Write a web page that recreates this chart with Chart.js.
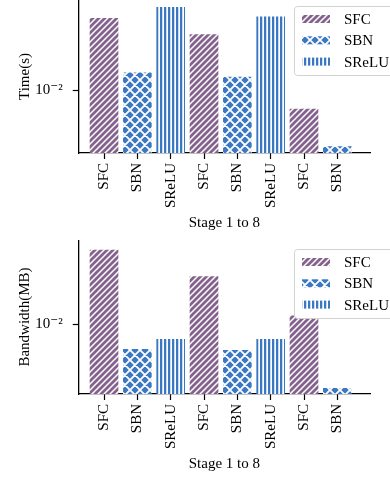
<!DOCTYPE html>
<html lang="en">
<head>
<meta charset="UTF-8">
<title>Stage time and bandwidth</title>
<style>
    body { margin: 0; background: #fff; }
    canvas { display: block; }
</style>
<script src="https://cdn.jsdelivr.net/npm/chart.js"></script>
</head>
<body>
<canvas id="timeChart" width="390" height="240"></canvas>
<canvas id="bwChart" width="390" height="241"></canvas>
<script>
// stage order on the x axis
const stageLabels = ['SFC', 'SBN', 'SReLU', 'SFC', 'SBN', 'SReLU', 'SFC', 'SBN'];
const seriesNames = ['SFC', 'SBN', 'SReLU'];

// Time(s), one value per occurrence of the layer type
const timeSFC = [0.0301, 0.0234, 0.00747];
const timeSBN = [0.0130, 0.0122, 0.00419];
const timeSReLU = [0.0356, 0.0308];

// Bandwidth(MB)
const bwSFC = [0.0313, 0.0208, 0.0114];
const bwSBN = [0.00681, 0.00671, 0.00374];
const bwSReLU = [0.00794, 0.00794];

const yTicks = [0.01];

const purple = '#85628d';
const blue = '#3b78c2';
const FONT = '"Liberation Serif", "DejaVu Serif", serif';

function makePattern(kind) {
    const c = document.createElement('canvas');
    const g = c.getContext('2d');
    if (kind === 'diag') {
        const s = 6;
        c.width = c.height = s;
        g.fillStyle = purple;
        g.fillRect(0, 0, s, s);
        g.strokeStyle = '#fff';
        g.lineWidth = 1.5;
        g.beginPath();
        g.moveTo(-1, s + 1); g.lineTo(s + 1, -1);
        g.moveTo(-1, 1); g.lineTo(1, -1);
        g.moveTo(s - 1, s + 1); g.lineTo(s + 1, s - 1);
        g.stroke();
    } else if (kind === 'cross') {
        const s = 10;
        c.width = c.height = s;
        g.fillStyle = blue;
        g.fillRect(0, 0, s, s);
        g.strokeStyle = '#fff';
        g.lineWidth = 1.8;
        g.beginPath();
        g.moveTo(-1, s + 1); g.lineTo(s + 1, -1);
        g.moveTo(-1, 1); g.lineTo(1, -1);
        g.moveTo(s - 1, s + 1); g.lineTo(s + 1, s - 1);
        g.moveTo(-1, -1); g.lineTo(s + 1, s + 1);
        g.moveTo(s - 1, -1); g.lineTo(s + 1, 1);
        g.moveTo(-1, s - 1); g.lineTo(1, s + 1);
        g.stroke();
    } else {
        c.width = 4; c.height = 4;
        g.fillStyle = '#fff';
        g.fillRect(0, 0, 4, 4);
        g.fillStyle = blue;
        g.fillRect(0, 0, 2, 4);
        g.fillStyle = '#c9dcf1';
        g.fillRect(2, 0, 1, 4);
    }
    return g.createPattern(c, 'repeat');
}

const patterns = [makePattern('diag'), makePattern('cross'), makePattern('vert')];

function sup(n) {
    const map = {'-': '⁻', '0': '⁰', '1': '¹', '2': '²', '3': '³', '4': '⁴', '5': '⁵', '6': '⁶', '7': '⁷', '8': '⁸', '9': '⁹'};
    return String(n).split('').map(ch => map[ch]).join('');
}

// legend drawn inside the plot, top right
const stageLegend = {
    id: 'stageLegend',
    afterDraw(chart, args, opts) {
        const ctx = chart.ctx;
        const top = opts.top;
        ctx.save();
        ctx.beginPath();
        ctx.roundRect(294.5, top + 0.5, 110, 69, 3);
        ctx.fillStyle = '#fff';
        ctx.fill();
        ctx.strokeStyle = '#d2d2d2';
        ctx.lineWidth = 1;
        ctx.stroke();
        ctx.font = '15px ' + FONT;
        ctx.textBaseline = 'middle';
        seriesNames.forEach((name, k) => {
            const cy = top + 13 + k * 21.3;
            ctx.fillStyle = patterns[k];
            ctx.fillRect(302, cy - 4, 28, 8);
            ctx.fillStyle = '#000';
            ctx.fillText(name, 344, cy + 1);
        });
        ctx.restore();
    }
};

function noPad(s) {
    s.paddingTop = 0;
    s.paddingBottom = 0;
    s.paddingLeft = 0;
    s.paddingRight = 0;
}

function makeChart(id, yTitle, values, yMin, yMax, legendTop) {
    const datasets = seriesNames.map((name, k) => {
        const xs = stageLabels.map((l, i) => l === name ? i : -1).filter(i => i >= 0);
        return {
            label: name,
            data: xs.map((x, j) => ({ x: x, y: values[k][j] })),
            backgroundColor: patterns[k],
            borderWidth: 0,
            barThickness: 28,
            grouped: false
        };
    });

    const tickFont = { family: FONT, size: 15 };

    return new Chart(document.getElementById(id), {
        type: 'bar',
        data: { datasets: datasets },
        options: {
            responsive: false,
            animation: false,
            layout: { padding: { left: 0, right: 20, top: 0, bottom: 0 } },
            plugins: {
                legend: { display: false },
                tooltip: { enabled: false },
                stageLegend: { top: legendTop }
            },
            scales: {
                x: {
                    type: 'linear',
                    offset: false,
                    min: -0.76,
                    max: 7.98,
                    afterBuildTicks: s => { s.ticks = stageLabels.map((_, i) => ({ value: i })); },
                    afterFit: s => { s.height = 87; noPad(s); },
                    ticks: {
                        callback: v => stageLabels[v],
                        autoSkip: false,
                        maxRotation: 90,
                        minRotation: 90,
                        padding: 4,
                        color: '#000',
                        font: tickFont
                    },
                    grid: { offset: false, drawOnChartArea: false, tickLength: 6, tickColor: '#000', tickWidth: 1.2 },
                    border: { color: '#000', width: 1.3 },
                    title: { display: true, text: 'Stage 1 to 8', color: '#000', font: tickFont, padding: { top: 0, bottom: 8 } }
                },
                y: {
                    type: 'logarithmic',
                    min: yMin,
                    max: yMax,
                    bounds: 'data',
                    afterBuildTicks: s => { s.ticks = yTicks.map(v => ({ value: v })); },
                    afterFit: s => { s.width = 78.7; noPad(s); },
                    ticks: {
                        callback: v => '10' + sup(Math.round(Math.log10(v))),
                        padding: 10,
                        color: '#000',
                        font: tickFont
                    },
                    grid: { drawOnChartArea: false, tickLength: 6, tickColor: '#000', tickWidth: 1.2 },
                    border: { color: '#000', width: 1.3 },
                    title: { display: true, text: yTitle, color: '#000', font: tickFont, padding: { top: 16, bottom: 0 } }
                }
            }
        },
        plugins: [stageLegend]
    });
}

makeChart('timeChart', 'Time(s)', [timeSFC, timeSBN, timeSReLU], 0.003802, 0.03981, 6);
makeChart('bwChart', 'Bandwidth(MB)', [bwSFC, bwSBN, bwSReLU], 0.003430, 0.03648, 9);
</script>
</body>
</html>
